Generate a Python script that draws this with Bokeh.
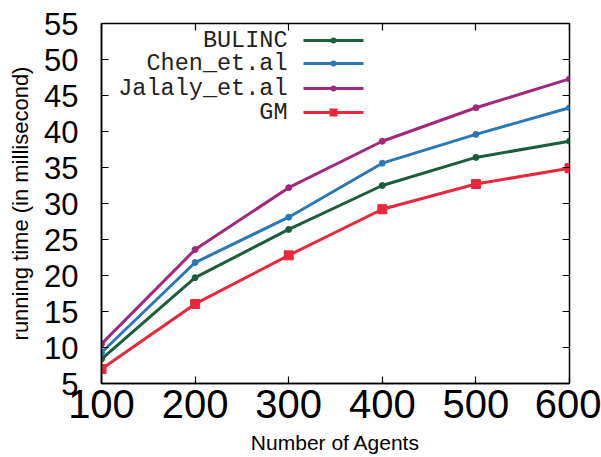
from bokeh.plotting import figure
from bokeh.models import Label, BoxAnnotation, LinearAxis, FixedTicker, Range1d, CustomJSTickFormatter
from bokeh.embed import file_html
from bokeh.resources import INLINE

agents = [100, 200, 300, 400, 500, 600]
bulinc = [8.4, 19.7, 26.4, 32.5, 36.4, 38.65]
chen = [9.3, 21.8, 28.1, 35.6, 39.6, 43.3]
jalaly = [10.5, 23.6, 32.2, 38.65, 43.3, 47.3]
gm = [7.0, 16.05, 22.8, 29.2, 32.7, 34.9]

series_names = ["BULINC", "Chen_et.al", "Jalaly_et.al", "GM"]
series_values = [bulinc, chen, jalaly, gm]
colors = ["#1b5e3b", "#2a79b4", "#a2287c", "#e8283c"]
markers = ["circle", "circle", "circle", "square"]
marker_sizes = [6, 6, 6, 9]

x_ticks = [100, 200, 300, 400, 500, 600]
y_ticks = [5, 10, 15, 20, 25, 30, 35, 40, 45, 50, 55]

FONT = "Liberation Sans"

p = figure(width=601, height=457, output_backend="svg", toolbar_location=None,
           x_range=Range1d(100, 600), y_range=Range1d(5, 55),
           min_border_left=101, min_border_right=32, min_border_top=23, min_border_bottom=74)
p.grid.visible = False
p.outline_line_color = "black"
p.outline_line_width = 1.5
p.background_fill_color = "white"
p.border_fill_color = "white"

for ax in (p.xaxis[0], p.yaxis[0]):
    ax.axis_line_color = "black"
    ax.axis_line_width = 1.5
    ax.major_tick_in = 7
    ax.major_tick_out = 0
    ax.minor_tick_line_color = None
    ax.major_tick_line_color = "black"
    ax.major_tick_line_width = 1.2
    ax.major_label_text_font = FONT
    ax.major_label_text_color = "black"
    ax.axis_label_text_font = FONT
    ax.axis_label_text_font_style = "normal"
    ax.axis_label_text_color = "black"

p.xaxis.ticker = FixedTicker(ticks=x_ticks)
p.yaxis.ticker = FixedTicker(ticks=y_ticks)
p.xaxis.major_label_text_font_size = "40px"
p.yaxis.major_label_text_font_size = "31px"
p.xaxis.major_label_standoff = 6
p.yaxis.major_label_standoff = 23
p.xaxis.axis_label = "Number of Agents"
p.yaxis.axis_label = "running time (in millisecond)"
p.xaxis.axis_label_text_font_size = "21px"
p.yaxis.axis_label_text_font_size = "22px"
p.xaxis.axis_label_standoff = 10
p.yaxis.axis_label_standoff = 8

blank = CustomJSTickFormatter(code="return ''")
top = LinearAxis(ticker=FixedTicker(ticks=x_ticks), formatter=blank,
                 major_tick_in=7, major_tick_out=0, minor_tick_line_color=None,
                 axis_line_color=None, major_label_text_font_size="0px",
                 major_label_standoff=0, major_tick_line_width=1.2)
right = LinearAxis(ticker=FixedTicker(ticks=y_ticks), formatter=blank,
                   major_tick_in=7, major_tick_out=0, minor_tick_line_color=None,
                   axis_line_color=None, major_label_text_font_size="0px",
                   major_label_standoff=0, major_tick_line_width=1.2)
p.add_layout(top, "above")
p.add_layout(right, "right")

for vals, c, m, s in zip(series_values, colors, markers, marker_sizes):
    p.line(agents, vals, line_width=3, line_color=c)
    p.scatter(agents, vals, marker=m, size=s, fill_color=c, line_color=c)

# legend (text right-aligned, sample to the right), in frame screen units
row_y = [343, 320, 295, 271]
for name, c, m, cy in zip(series_names, colors, markers, row_y):
    p.add_layout(Label(x=186, y=cy, x_units="screen", y_units="screen", text=name,
                       text_align="right", text_baseline="middle",
                       text_font="Liberation Mono", text_font_size="23.5px",
                       text_color="#222222"))
    p.add_layout(BoxAnnotation(left=202, right=262, bottom=cy - 1.5, top=cy + 1.5,
                               left_units="screen", right_units="screen",
                               bottom_units="screen", top_units="screen",
                               fill_color=c, fill_alpha=1, line_color=None))
    half = 4 if m == "square" else 3
    p.add_layout(BoxAnnotation(left=232 - half, right=232 + half, bottom=cy - half, top=cy + half,
                               left_units="screen", right_units="screen",
                               bottom_units="screen", top_units="screen",
                               fill_color=c, fill_alpha=1, line_color=None,
                               border_radius=(0 if m == "square" else half)))

open("out.html", "w").write(file_html(p, INLINE))
